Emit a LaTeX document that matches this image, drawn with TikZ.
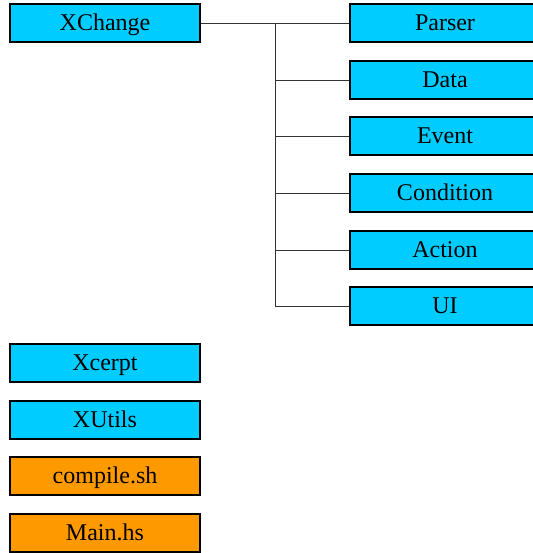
\documentclass[tikz,border=0pt]{standalone}
\usepackage{fontspec}
\setmainfont{Liberation Serif}

\definecolor{modcyan}{HTML}{00CCFF}
\definecolor{fileorange}{HTML}{FF9900}

\tikzset{
    module/.style={draw=black,line width=1pt,fill=modcyan,minimum width=95pt,
       minimum height=19pt,inner sep=0pt,text height=8.5pt,text depth=1.5pt,
       font=\fontsize{12}{14}\selectfont},
    script/.style={module,fill=fileorange},
    link/.style={draw=black!80,line width=0.5pt}
}

\begin{document}
\begin{tikzpicture}[x=0.5pt,y=-0.5pt]
    \useasboundingbox (0,0) rectangle (532,553);
    % left column
    \node[module] (xchange) at (105,23)  {XChange};
    \node[module] (xcerpt)  at (105,363) {Xcerpt};
    \node[module] (xutils)  at (105,420) {XUtils};
    \node[script] (compile) at (105,476) {compile.sh};
    \node[script] (mainhs)  at (105,533) {Main.hs};
    % right column
    \node[module] (parser)    at (445,23)  {Parser};
    \node[module] (data)      at (445,80)  {Data};
    \node[module] (event)     at (445,136) {Event};
    \node[module] (condition) at (445,193) {Condition};
    \node[module] (action)    at (445,250) {Action};
    \node[module] (ui)        at (445,306) {UI};
    % tree lines
    \coordinate (bus) at (275,23);
    \draw[link] (xchange.east) -- (parser.west);
    \draw[link] (bus) -- (bus |- ui.west) -- (ui.west);
    \foreach \n in {data,event,condition,action}
       \draw[link] (bus |- \n.west) -- (\n.west);
\end{tikzpicture}
\end{document}
